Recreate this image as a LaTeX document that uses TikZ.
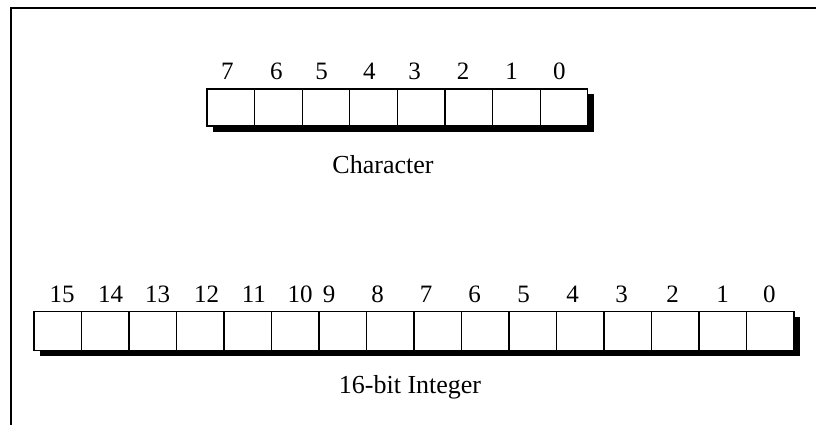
\documentclass[tikz,border=0pt]{standalone}
\usepackage{fontspec}
\setmainfont{Liberation Serif}
\begin{document}
\begin{tikzpicture}[x=1pt,y=-1pt,
  cell/.style={draw, line width=1.3pt, fill=white, minimum width=47.6pt, minimum height=37pt, inner sep=0pt, outer sep=0pt, anchor=north west},
  icell/.style={cell, minimum width=47.5pt, minimum height=39pt},
  bitnum/.style={font=\fontsize{25}{25}\selectfont, anchor=base, inner sep=0pt},
  caption/.style={font=\fontsize{26}{26}\selectfont, anchor=base, inner sep=0pt},
  frameline/.style={line width=2pt}]
\useasboundingbox (0,0) rectangle (816,425);
\draw[frameline] (816,8) -- (10.7,8) -- (10.7,425);
% Character
\fill[black] (213,94) rectangle (594,132);
\foreach \i in {0,...,7} \node[cell] (c\i) at ({207+47.6*\i},89) {};
\foreach \d/\x in {7/227.4,6/276.3,5/321.7,4/369.3,3/414.5,2/463,1/511.7,0/559.3}
  \node[bitnum] (cb\d) at (\x,80) {\d};
\node[caption] (ccap) at (383,173.3) {Character};
% 16-bit integer
\fill[black] (40,317) rectangle (800,356);
\foreach \i in {0,...,15} \node[icell] (n\i) at ({34+47.5*\i},311.7) {};
\foreach \d/\x in {15/62,14/110.5,13/157.7,12/206.7,11/253.8,10/300,9/329,8/377.5,7/426,6/474.5,5/523.5,4/572.5,3/621.7,2/672.7,1/722.7,0/769.3}
  \node[bitnum] (nb\d) at (\x,302) {\d};
\node[caption] (ncap) at (410,393.3) {16-bit Integer};
\end{tikzpicture}
\end{document}
